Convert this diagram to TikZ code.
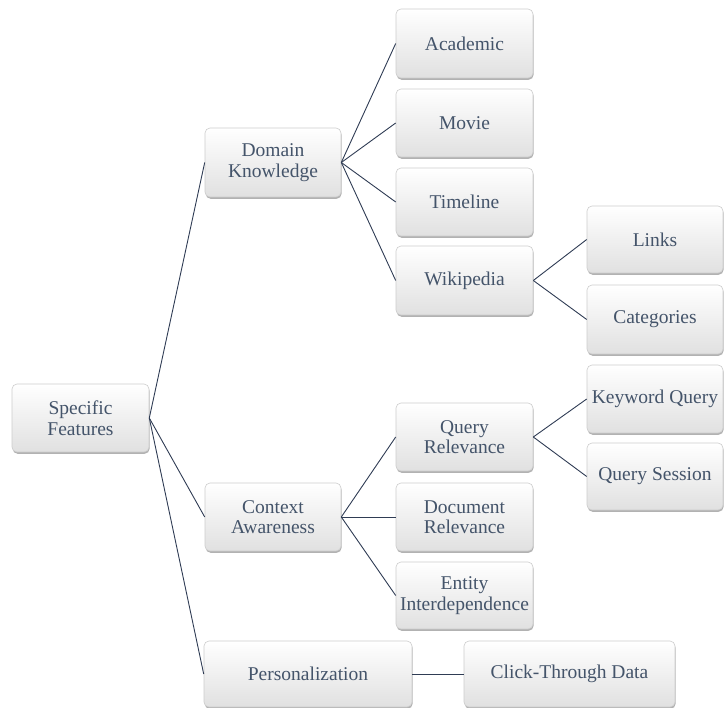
\documentclass[tikz,border=0pt]{standalone}
\usepackage{fontspec}
\setmainfont{Liberation Serif}
\usetikzlibrary{shadows}
\definecolor{txt}{RGB}{68,84,106}
\definecolor{edge}{RGB}{47,60,84}
\definecolor{bord}{RGB}{205,205,205}
\begin{document}
\begin{tikzpicture}[x=1pt,y=-1pt,
  box/.style={rectangle, rounded corners=5pt, draw=bord, line width=0.6pt,
    top color=white, middle color=white, bottom color=white!88!black,
    drop shadow={shadow xshift=0.6pt, shadow yshift=-1.8pt, opacity=0.55, fill=black!55},
    text=txt, align=center, inner sep=0pt,
    font=\fontsize{19.5}{20.5}\selectfont},
  conn/.style={draw=edge, line width=0.9pt}]
\useasboundingbox (0,0) rectangle (724,708);
% nodes
\node[box, minimum width=137, minimum height=68] (sf) at (80.5,418) {Specific\\Features};
\node[box, minimum width=136, minimum height=69] (dk) at (273,162.5) {Domain\\Knowledge};
\node[box, minimum width=136, minimum height=68] (ca) at (273,517) {Context\\Awareness};
\node[box, minimum width=208, minimum height=66] (pe) at (308,674) {Personalization};
\node[box, minimum width=137, minimum height=69] (ac) at (464.5,43.5) {Academic};
\node[box, minimum width=137, minimum height=68] (mo) at (464.5,123) {Movie};
\node[box, minimum width=137, minimum height=68] (ti) at (464.5,202) {Timeline};
\node[box, minimum width=137, minimum height=69] (wi) at (464.5,280.5) {Wikipedia};
\node[box, minimum width=137, minimum height=68] (qr) at (464.5,437) {Query\\Relevance};
\node[box, minimum width=137, minimum height=68] (dr) at (464.5,517) {Document\\Relevance};
\node[box, minimum width=137, minimum height=67] (ei) at (464.5,595.5) {Entity\\Interdependence};
\node[box, minimum width=136, minimum height=67] (li) at (655,239.5) {Links};
\node[box, minimum width=136, minimum height=69] (cat) at (655,319.5) {Categories};
\node[box, minimum width=136, minimum height=68] (kq) at (655,399) {Keyword Query};
\node[box, minimum width=136, minimum height=67] (qs) at (655,476.5) {Query Session};
\node[box, minimum width=211, minimum height=66] (ct) at (569.5,674) {Click-Through Data};
% connectors
\foreach \c in {dk,ca,pe} \draw[conn] (sf.east) -- (\c.west);
\foreach \c in {ac,mo,ti,wi} \draw[conn] (dk.east) -- (\c.west);
\foreach \c in {qr,dr,ei} \draw[conn] (ca.east) -- (\c.west);
\foreach \c in {li,cat} \draw[conn] (wi.east) -- (\c.west);
\foreach \c in {kq,qs} \draw[conn] (qr.east) -- (\c.west);
\draw[conn] (pe.east) -- (ct.west);
\end{tikzpicture}
\end{document}
